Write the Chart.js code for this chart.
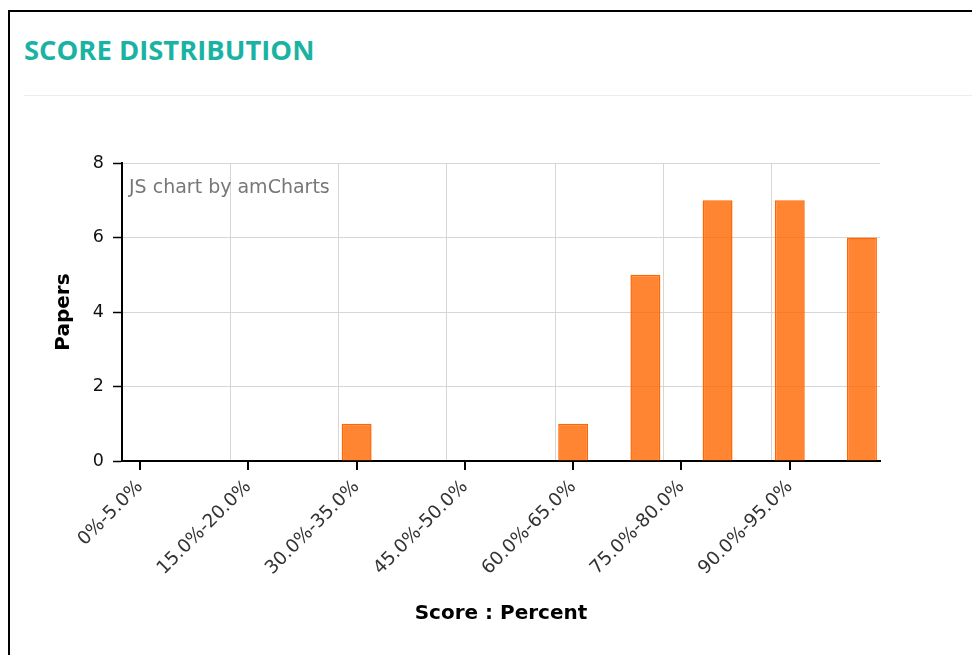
<!DOCTYPE html>
<html>
<head>
<meta charset="utf-8">
<script src="https://cdn.jsdelivr.net/npm/chart.js@4.4.1/dist/chart.umd.min.js"></script>
<style>
  html, body { margin: 0; padding: 0; background: #fff; overflow: hidden; }
  body { width: 972px; height: 655px; position: relative; }
  .frame { position: absolute; left: 8px; top: 10px; width: 1000px; height: 700px; border: 2px solid #000; }
  .title { position: absolute; left: 24px; top: 31px; font-family: "Open Sans", sans-serif; font-weight: 700;
           font-size: 27.4px; color: #1ab3a3; white-space: nowrap; }
  .divider { position: absolute; left: 24px; top: 95px; width: 960px; height: 0; border-top: 1px solid #ececec; }
  .credit { position: absolute; left: 129px; top: 175px; font-family: "DejaVu Sans", sans-serif; font-size: 19px;
            color: #777; white-space: nowrap; z-index: 2; }
  #chart { position: absolute; left: 0; top: 0; z-index: 1; }
</style>
</head>
<body>
<div class="frame"></div>
<div class="title">SCORE DISTRIBUTION</div>
<div class="divider"></div>
<canvas id="chart" width="972" height="655"></canvas>
<div class="credit">JS chart by amCharts</div>
<script>
// score bins (5% wide) and number of papers in each
var categories = [
  "0%-5.0%", "5.0%-10.0%", "10.0%-15.0%", "15.0%-20.0%", "20.0%-25.0%", "25.0%-30.0%",
  "30.0%-35.0%", "35.0%-40.0%", "40.0%-45.0%", "45.0%-50.0%", "50.0%-55.0%", "55.0%-60.0%",
  "60.0%-65.0%", "65.0%-70.0%", "70.0%-75.0%", "75.0%-80.0%", "80.0%-85.0%", "85.0%-90.0%",
  "90.0%-95.0%", "95.0%-100.0%", "100.0%"
];
var papers = [0, 0, 0, 0, 0, 0, 1, 0, 0, 0, 0, 0, 1, 0, 5, 0, 7, 0, 7, 0, 6];
var yTicks = [0, 2, 4, 6, 8];
var labelStep = 3;

var font = "'DejaVu Sans', Verdana, sans-serif";

// small black tick marks under the labelled categories
var xTickMarks = {
  id: 'xTickMarks',
  afterDraw: function(chart) {
    var x = chart.scales.x;
    var ctx = chart.ctx;
    ctx.save();
    ctx.strokeStyle = '#000';
    ctx.lineWidth = 2;
    for (var i = 0; i < x.ticks.length; i += labelStep) {
      var px = Math.round(x.getPixelForTick(i));
      ctx.beginPath();
      ctx.moveTo(px, x.top);
      ctx.lineTo(px, x.top + 9);
      ctx.stroke();
    }
    ctx.restore();
  }
};

new Chart(document.getElementById('chart'), {
  type: 'bar',
  data: {
    labels: categories,
    datasets: [{
      label: 'Papers',
      data: papers,
      backgroundColor: 'rgba(255, 102, 0, 0.8)',
      borderColor: '#ff6600',
      borderWidth: 1.5,
      categoryPercentage: 1,
      barPercentage: 0.83
    }]
  },
  options: {
    responsive: false,
    animation: false,
    devicePixelRatio: 1,
    layout: { padding: { left: 50, right: 92, top: 163, bottom: 25 } },
    plugins: { legend: { display: false }, tooltip: { enabled: false } },
    scales: {
      x: {
        afterFit: function(s) { s.height = 169; },
        grid: {
          offset: true,
          drawTicks: false,
          lineWidth: 1,
          color: function(c) { return c.index % labelStep === 0 ? '#d6d6d6' : 'rgba(0,0,0,0)'; }
        },
        border: { display: true, color: '#000', width: 2 },
        ticks: {
          autoSkip: false,
          minRotation: 45,
          maxRotation: 45,
          padding: 15,
          color: '#333',
          font: { family: font, size: 18.5 },
          callback: function(v, i) { return i % labelStep === 0 ? categories[i] : ''; }
        },
        title: {
          display: true,
          text: 'Score : Percent',
          color: '#000',
          font: { family: font, size: 20, weight: 'bold' },
          padding: { top: 4, bottom: 4 }
        }
      },
      y: {
        min: yTicks[0],
        max: yTicks[yTicks.length - 1],
        afterFit: function(s) { s.width = 72; },
        afterBuildTicks: function(s) { s.ticks = yTicks.map(function(v) { return { value: v }; }); },
        grid: { color: '#d6d6d6', lineWidth: 1, tickColor: '#000', tickLength: 9, tickWidth: 1.5 },
        border: { display: true, color: '#000', width: 2 },
        ticks: {
          padding: 9,
          color: '#111',
          font: { family: font, size: 17.5 }
        },
        title: {
          display: true,
          text: 'Papers',
          color: '#000',
          font: { family: font, size: 20, weight: 'bold' },
          padding: { top: 2, bottom: 4 }
        }
      }
    }
  },
  plugins: [xTickMarks]
});
</script>
</body>
</html>
